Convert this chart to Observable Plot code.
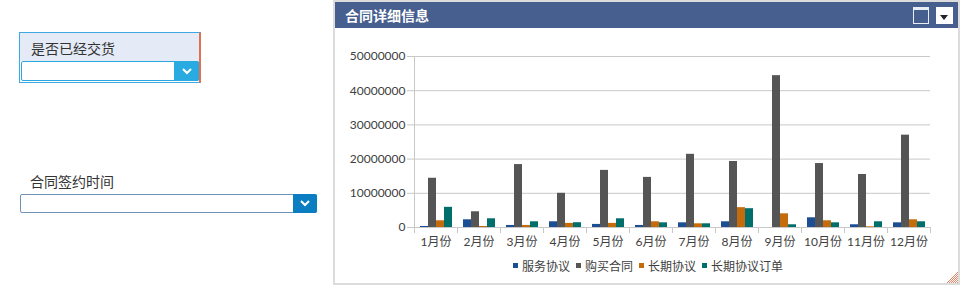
<!DOCTYPE html>
<html><head><meta charset="utf-8">
<script src="https://cdn.jsdelivr.net/npm/d3@7"></script>
<script src="https://cdn.jsdelivr.net/npm/@observablehq/plot@0.6"></script>
<style>
html,body{margin:0;padding:0;background:#fff;}
body{width:966px;height:300px;position:relative;overflow:hidden;font-family:"Noto Sans CJK SC","Noto Sans",sans-serif;}
.abs{position:absolute;}
#w1{left:19px;top:32px;width:179px;height:49px;border:1px solid #3ea8e2;border-right:2px solid #e2704f;background:linear-gradient(#e4eaf6 0,#e4eaf6 28px,#fff 28px);}
.lab{font-size:14px;color:#333;line-height:16px;}
.sel{background:#fff;border-radius:2px;box-sizing:border-box;}
.btn{position:absolute;top:-1px;right:-1px;bottom:-1px;display:flex;align-items:center;justify-content:center;border-radius:0 2px 2px 0;}
#panel{left:333px;top:0;width:623px;height:281px;border:2px solid #dcdcdc;background:#fff;}
#titlebar{position:absolute;left:0;top:0;width:623px;height:26px;background:#475f8e;color:#fff;font-weight:bold;font-size:14px;line-height:27px;}
#chart{position:absolute;left:0;top:26px;}
#legend{position:absolute;left:178px;top:247px;}
#legend > div{font-family:Lato,"Noto Sans CJK SC",sans-serif !important;font-size:12px !important;color:#404040 !important;margin:0 !important;}
#legend > div > span{margin-right:6px !important;}
#legend > div > span > svg{margin-right:4px !important;}
</style></head>
<body>
<div id="w1" class="abs">
  <div class="lab abs" style="left:11px;top:7px;">是否已经交货</div>
  <div class="sel abs" style="left:1px;top:28px;width:178px;height:20px;border:1px solid #29a8e0;">
    <div class="btn" style="width:25px;background:#29abe2;">
      <svg width="10" height="7"><polyline points="1,1 5,5 9,1" fill="none" stroke="#fff" stroke-width="2"/></svg>
    </div>
  </div>
</div>
<div class="lab abs" style="left:30px;top:173px;">合同签约时间</div>
<div class="sel abs" style="left:20px;top:194px;width:297px;height:19px;border:1px solid #7193b6;">
  <div class="btn" style="width:24px;background:#0b7dc1;">
    <svg width="10" height="7"><polyline points="1,1 5,5 9,1" fill="none" stroke="#fff" stroke-width="2"/></svg>
  </div>
</div>
<div id="panel" class="abs">
  <div id="titlebar"><span style="margin-left:10px;">合同详细信息</span>
    <div class="abs" style="left:578px;top:5px;width:14px;height:13px;border:1px solid #e8ecf3;border-top:3px solid #e8ecf3;box-sizing:content-box;"></div>
    <div class="abs" style="left:601px;top:5px;width:17px;height:17px;background:#fff;">
      <svg width="17" height="17"><polygon points="4,6 12,6 8,11" fill="#222"/></svg>
    </div>
  </div>
  <div id="chart"></div>
  <div id="legend"></div>
  <svg class="abs" style="left:611px;top:269px;" width="12" height="12">
    <defs><pattern id="dots" width="2" height="2" patternUnits="userSpaceOnUse"><rect width="1" height="1" fill="#e8866a"/><rect x="1" y="1" width="1" height="1" fill="#e8866a"/></pattern></defs>
    <polygon points="12,0 12,12 0,12" fill="url(#dots)"/>
  </svg>
</div>
<script>
const months = ["1月份","2月份","3月份","4月份","5月份","6月份","7月份","8月份","9月份","10月份","11月份","12月份"];
const seriesNames = ["服务协议","购买合同","长期协议","长期协议订单"];
const seriesColors = ["#1c4e94","#555555","#c46b0c","#006e6b"];
const serviceValues   = [300000, 2250000, 600000, 1670000, 900000, 600000, 1370000, 1670000, 0, 2840000, 800000, 1370000];
const purchaseValues  = [14400000, 4600000, 18400000, 10000000, 16700000, 14650000, 21400000, 19300000, 44400000, 18700000, 15500000, 27000000];
const longTermValues  = [1960000, 300000, 600000, 1200000, 1200000, 1670000, 1080000, 5800000, 4000000, 1960000, 200000, 2250000];
const longOrderValues = [5900000, 2550000, 1670000, 1400000, 2550000, 1370000, 1080000, 5500000, 800000, 1370000, 1670000, 1670000];
const yTicks = [0, 10000000, 20000000, 30000000, 40000000, 50000000];

const seriesValues = [serviceValues, purchaseValues, longTermValues, longOrderValues];
const data = months.flatMap((m, i) => seriesNames.map((s, j) => ({month: m, series: s, value: seriesValues[j][i]})));

const grid = "#c8c8c8";
const chart = Plot.plot({
  width: 623, height: 226,
  marginLeft: 77, marginRight: 27, marginTop: 28, marginBottom: 27,
  style: {fontFamily: "Lato, 'Noto Sans CJK SC', sans-serif", fontSize: "12px", color: "#404040", background: "transparent"},
  fx: {domain: months, padding: 0, label: null},
  x: {domain: seriesNames, paddingInner: 0, paddingOuter: 0.4, axis: null},
  y: {domain: [0, 50000000], label: null},
  color: {domain: seriesNames, range: seriesColors},
  marks: [
    Plot.gridY(yTicks, {stroke: grid, strokeOpacity: 1}),
    Plot.axisY(yTicks, {tickFormat: d => String(d), tickSize: 7, tickPadding: 2, stroke: grid, fill: "#404040", label: null}),
    Plot.frame({anchor: "left", facetAnchor: "left", stroke: grid}),
    Plot.frame({anchor: "left", stroke: grid, insetTop: 171, insetBottom: -5}),
    Plot.frame({anchor: "right", facetAnchor: "right", stroke: grid, insetTop: 171, insetBottom: -5}),
    Plot.barY(data, {fx: "month", x: "series", y: "value", fill: "series"}),
    Plot.axisFx({anchor: "bottom", tickSize: 0, tickPadding: 10, label: null, fill: "#404040"})
  ]
});
document.getElementById("chart").appendChild(chart);

const legend = Plot.legend({color: {domain: seriesNames, range: seriesColors}, swatchSize: 5});
document.getElementById("legend").appendChild(legend);
</script>
</body></html>
